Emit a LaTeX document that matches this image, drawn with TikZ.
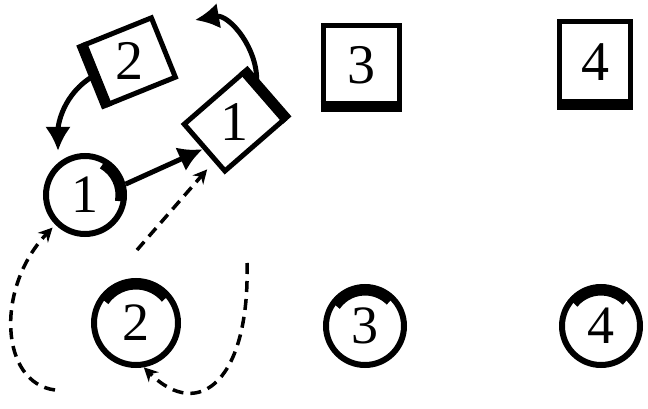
\documentclass[tikz,border=0pt]{standalone}
\usepackage{fontspec}
\setmainfont{Liberation Serif}
\usepackage{graphicx}
\usetikzlibrary{arrows.meta}

\begin{document}
\begin{tikzpicture}[
  x=1pt, y=1pt,
  sqbox/.style={draw, line width=5pt, inner sep=0pt, minimum width=76pt,
                minimum height=78pt, font=\fontsize{56}{60}\selectfont},
  ringnode/.style={draw, circle, line width=6pt, inner sep=0pt,
                   minimum size=78pt, font=\fontsize{54}{58}\selectfont},
  heavy/.style={line width=11pt},
  arrow/.style={-{Latex[length=24pt,width=26pt]}, line width=5pt},
  dasharrow/.style={-{Stealth[length=14pt,width=14pt]}, line width=3.5pt,
                    dash pattern=on 11pt off 7pt}
]
\useasboundingbox (0,0) rectangle (648,408);

% moved boxes
\node[sqbox, rotate=22, minimum width=72pt, minimum height=64pt] (sq2) at (130,347) {\rotatebox{-22}{2}};
\node[sqbox, rotate=41, minimum width=78pt, minimum height=62pt] (sq1) at (234,286) {\rotatebox{-41}{1}};
\node[sqbox] (sq3) at (361,343) {3};
\node[sqbox, minimum width=71pt, minimum height=80pt] (sq4) at (595,346) {4};

\draw[heavy] (sq2.north west) -- (sq2.south west);
\draw[heavy] (sq1.north east) -- (sq1.south east);
\draw[heavy] (sq3.south west) -- (sq3.south east);
\draw[heavy] (sq4.south west) -- (sq4.south east);

% rings
\node[ringnode] (c1) at (85,213) {1};
\node[ringnode, minimum size=84pt] (c2) at (136,85) {2};
\node[ringnode] (c3) at (365,82) {3};
\node[ringnode] (c4) at (601,82) {4};

\draw[heavy] ([shift={(60:36pt)}]c1.center) arc[start angle=60, end angle=-10, radius=36pt];
\draw[heavy] ([shift={(145:39pt)}]c2.center) arc[start angle=145, end angle=40, radius=39pt];
\draw[heavy] ([shift={(145:36pt)}]c3.center) arc[start angle=145, end angle=45, radius=36pt];
\draw[heavy] ([shift={(140:36pt)}]c4.center) arc[start angle=140, end angle=45, radius=36pt];

% free ends
\coordinate (swapend) at (195,388);
\coordinate (dstart) at (137,158);
\coordinate (estart) at (55,18);
\coordinate (fstart) at (247,145);

\draw[arrow] (c1.15) -- (sq1.west);
\draw[arrow, shorten >=12pt] (sq2.west) to[out=210, in=90] (c1.130);
\draw[arrow] (sq1.18) to[out=85, in=10] (swapend);

\draw[dasharrow, shorten >=10pt] (dstart) -- (sq1.202);
\draw[dasharrow, shorten >=4pt] (estart) .. controls (0,25) and (-5,120) .. (c1.225);
\draw[dasharrow] (fstart) .. controls (250,30) and (200,-15) .. (c2.280);
\end{tikzpicture}
\end{document}
